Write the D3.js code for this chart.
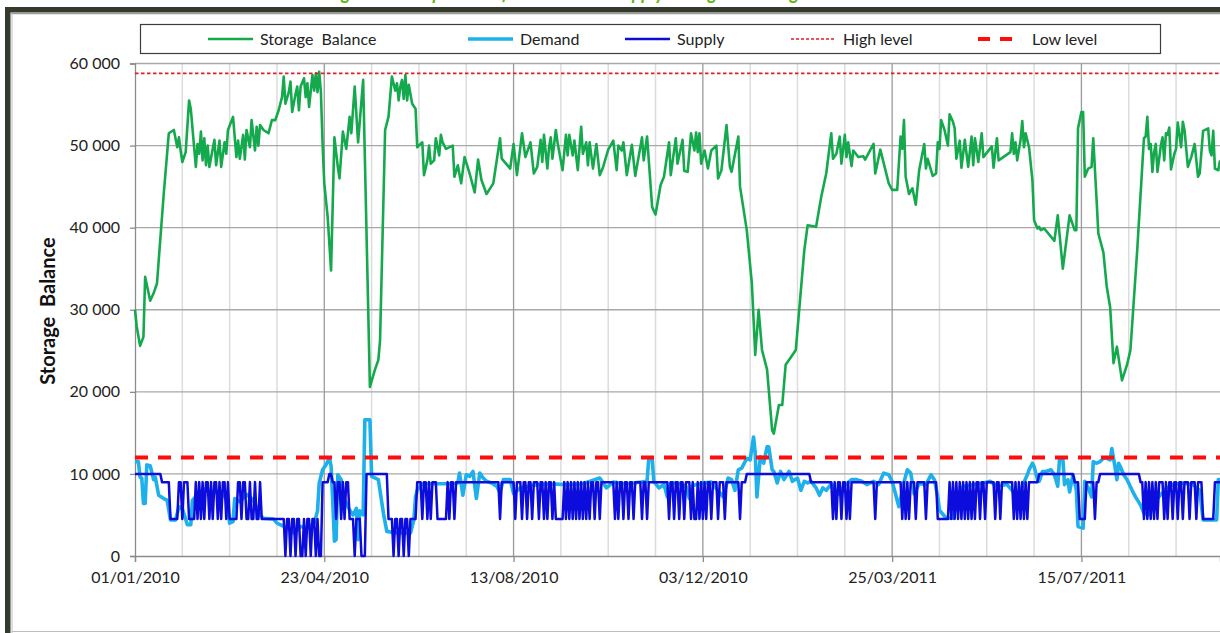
<!DOCTYPE html>
<html><head><meta charset="utf-8">
<script src="https://cdn.jsdelivr.net/npm/d3@7"></script>
<style>
body{margin:0;background:#fff;overflow:hidden}
svg{display:block}
text{font-family:Lato,"Liberation Sans",sans-serif}
</style>
</head><body>
<svg id="c" width="1220" height="633"></svg>
<script>
// ---------------- DATA ----------------
const startDate = "2010-01-01";
const lastDay = 642;            // days after startDate at right edge
const titleText = "Figure 7: Comparison of Demand and Supply during the Storage Simulation";

// [day offset from 01/01/2010, storage balance]
const storageSeries = [[0,30000],[1,28000],[3,25600],[5,26700],[6,34000],[9,31100],[11,32000],[13,33200],[17,44100],[20,51500],[23,51900],[25,49800],[26,51000],[27,49400],[28,48000],[30,49200],[32,55500],[33,54500],[36,47400],[37,50200],[38,49000],[39,51700],[40,48200],[41,50900],[42,47600],[43,50000],[44,47400],[47,50700],[48,47600],[50,50600],[51,47400],[53,50400],[54,49000],[55,51900],[58,53500],[60,48600],[61,50600],[62,48400],[64,51300],[65,48300],[66,51900],[68,49800],[69,53100],[71,49400],[72,52300],[73,50000],[74,52500],[76,51900],[79,51500],[81,53100],[83,53100],[85,54300],[87,55900],[88,58400],[89,55100],[91,56500],[92,57800],[93,54100],[95,56300],[96,57200],[97,54300],[98,57200],[100,58200],[101,55900],[102,57600],[103,54700],[105,58600],[106,56700],[107,58800],[108,56500],[109,59000],[110,56500],[111,50200],[112,45400],[114,41300],[116,34800],[118,51000],[120,47400],[121,46000],[123,51700],[125,49600],[127,53500],[128,51500],[130,57200],[132,50400],[135,58000],[139,20600],[142,22700],[144,23900],[145,26300],[148,51900],[150,53500],[152,58400],[154,56700],[155,57600],[156,55500],[157,57200],[158,58000],[159,55700],[160,58600],[161,55500],[162,57400],[164,55100],[166,54500],[167,49800],[169,50200],[170,50400],[171,46400],[173,48200],[174,50000],[175,47800],[177,48200],[178,50900],[180,48800],[181,51300],[182,50400],[184,49600],[188,50000],[189,46200],[191,47600],[193,45400],[195,48600],[198,46600],[201,44300],[203,48300],[205,45800],[208,44100],[212,45400],[216,50900],[217,48400],[222,47200],[224,50200],[226,46400],[229,51500],[231,48600],[234,50400],[236,46600],[238,47400],[240,50700],[241,48000],[242,51300],[244,47200],[245,49800],[246,51000],[247,48400],[249,51900],[250,50400],[253,47000],[255,51300],[256,48800],[257,51300],[259,48800],[260,50600],[262,47000],[264,52300],[265,49000],[267,50400],[268,47600],[269,50400],[271,47200],[273,50200],[275,46400],[277,47400],[280,49500],[283,50600],[285,47000],[286,50000],[288,49400],[289,50400],[291,46400],[294,50100],[296,46300],[300,51000],[301,48200],[303,51100],[306,42500],[308,41600],[311,45200],[313,46200],[316,50400],[317,46400],[320,50900],[321,47800],[324,50700],[325,46900],[327,46800],[329,51500],[331,49400],[332,51600],[333,49200],[334,51500],[335,47800],[337,49400],[339,47200],[341,49400],[344,50000],[345,46000],[347,47000],[350,52500],[352,47400],[353,46800],[357,51100],[358,45000],[362,39700],[365,33200],[367,24500],[369,30000],[371,25100],[374,22700],[377,15300],[378,14900],[381,18400],[383,18400],[385,23300],[389,24500],[391,25100],[396,37200],[398,40300],[403,40100],[406,43700],[409,46600],[412,51500],[413,48400],[415,49000],[417,51100],[418,47800],[420,51300],[421,48600],[422,50400],[424,47500],[425,49400],[428,48600],[431,48700],[432,48300],[437,50200],[438,46600],[441,49500],[446,45400],[448,44600],[451,44600],[453,51100],[454,49600],[455,53100],[456,46200],[458,44100],[460,44800],[462,42800],[464,47000],[467,50200],[468,47200],[469,48400],[472,46300],[474,46600],[475,50400],[476,49600],[477,53100],[479,51900],[481,50000],[482,53800],[484,52900],[485,52100],[486,48400],[488,50600],[489,47300],[491,50700],[493,47400],[495,51100],[496,47600],[497,50900],[499,48000],[501,51500],[502,48600],[507,49900],[508,47300],[510,50900],[511,48200],[518,49200],[519,51500],[520,49000],[521,50400],[522,48200],[524,50700],[525,53000],[526,49800],[527,51500],[529,49800],[531,45800],[532,40900],[534,39900],[535,40100],[536,39700],[538,39900],[544,38400],[546,41500],[549,35000],[553,41500],[556,39700],[557,39700],[558,52100],[560,54100],[561,54100],[562,46200],[564,47200],[566,47400],[567,50900],[569,43300],[570,39300],[573,37000],[575,32800],[577,30300],[579,23500],[581,25500],[584,21400],[587,23300],[589,25100],[593,37200],[597,50900],[598,51100],[599,53500],[600,49600],[601,50200],[602,46800],[603,49200],[604,50200],[605,46800],[607,50000],[608,51000],[609,48200],[610,51500],[611,51300],[612,52200],[613,47100],[615,49000],[616,49600],[617,52800],[619,49800],[620,52900],[621,51900],[623,47400],[625,48600],[627,50200],[629,46200],[630,46600],[632,51800],[635,52100],[636,49400],[637,48800],[638,51800],[639,47200],[641,47000],[642,48200]];

// [day offset, demand]
const demandSeries = [[0,11500],[2,11500],[3,9600],[4,9500],[5,6400],[6,6400],[7,11100],[9,11000],[11,9300],[12,9600],[14,7400],[17,7000],[19,6800],[21,4400],[24,4400],[26,6000],[28,5800],[31,3800],[33,3800],[34,6800],[36,7200],[38,7800],[42,8200],[46,7600],[50,8000],[54,7000],[56,4000],[58,4200],[59,7000],[62,6600],[66,7500],[70,6800],[74,5000],[76,4600],[82,4500],[84,4000],[88,3600],[91,3400],[94,2800],[98,3600],[102,3400],[106,4000],[108,5500],[109,8900],[111,10500],[113,11100],[115,11900],[116,11000],[117,6800],[118,1800],[119,2000],[120,9900],[122,9300],[124,6800],[127,5600],[129,5000],[131,5800],[132,2000],[133,5500],[135,5000],[136,16600],[139,16600],[140,9700],[144,9300],[147,5200],[149,3000],[155,2800],[163,2800],[165,4400],[166,7200],[167,8000],[170,8800],[188,8800],[191,8900],[192,10100],[194,7400],[196,9900],[198,9700],[200,10300],[202,7000],[204,10100],[206,9500],[208,9100],[211,8900],[214,8500],[216,7800],[218,9300],[222,9300],[224,7600],[228,8300],[235,8600],[245,8800],[255,8700],[265,8800],[275,9500],[279,8300],[283,9000],[290,8800],[295,8900],[303,9100],[304,11900],[306,11900],[307,9100],[310,8300],[313,8700],[315,7200],[317,8900],[321,8900],[326,8500],[328,7000],[330,8600],[336,8900],[341,9000],[348,7200],[351,9500],[353,9300],[355,8000],[357,10500],[359,10700],[361,11500],[362,11900],[364,11700],[366,14500],[367,12500],[368,7200],[370,12100],[372,11300],[374,13300],[375,13300],[377,10500],[378,10300],[380,8900],[382,10300],[384,9300],[387,10300],[389,9100],[392,9500],[394,8000],[396,9100],[398,8900],[400,9100],[403,8300],[405,7400],[407,8300],[409,8000],[412,8800],[416,7500],[420,8600],[424,9300],[427,9300],[430,9100],[433,8700],[437,9100],[440,8700],[443,10100],[446,9900],[448,9100],[452,6000],[455,9000],[457,10500],[459,10100],[461,7600],[464,8800],[468,8700],[471,9900],[473,9300],[475,7200],[476,5600],[480,4600],[484,4600],[487,7200],[490,8500],[502,8900],[506,9100],[510,8500],[516,8700],[519,8000],[522,7200],[525,8500],[528,9900],[529,10500],[531,11300],[532,10900],[534,9300],[535,9100],[537,10300],[539,10300],[542,10500],[544,9900],[546,8500],[547,11700],[549,11900],[550,8700],[552,9300],[553,7800],[555,9900],[557,8000],[558,3600],[561,3400],[562,9100],[564,8300],[566,7200],[567,11500],[569,11300],[571,11500],[573,11900],[575,11900],[577,11700],[578,13100],[580,10700],[581,9300],[582,11300],[583,10900],[585,9900],[587,9300],[590,8000],[592,7200],[595,6200],[597,5200],[600,5000],[605,7000],[610,8200],[614,8700],[620,8900],[626,8700],[630,8000],[632,4400],[640,4400],[641,9300],[642,9300]];

// Supply as runs: [first day of run, supply level]
const supplyRuns = [[0,10000],[16,9000],[21,4500],[26,9000],[28,4500],[29,9000],[32,4500],[36,9000],[37,4500],[38,9000],[39,4500],[40,9000],[41,4500],[42,9000],[44,4500],[45,9000],[46,4500],[47,9000],[49,4500],[50,9000],[51,4500],[52,9000],[54,4500],[55,9000],[56,4500],[61,9000],[63,4500],[64,9000],[66,4500],[68,9000],[69,4500],[71,9000],[72,4500],[74,9000],[75,4500],[89,0],[90,4500],[92,0],[93,4500],[95,0],[96,4500],[98,0],[100,4500],[101,0],[102,4500],[104,0],[105,4500],[107,0],[108,4500],[109,0],[111,9000],[115,10000],[117,9000],[119,4500],[120,9000],[122,4500],[123,9000],[124,4500],[125,9000],[127,4500],[130,0],[131,4500],[134,0],[137,10000],[150,4500],[153,0],[154,4500],[156,0],[157,4500],[159,0],[160,4500],[162,0],[163,4500],[167,9000],[170,4500],[171,9000],[173,4500],[174,9000],[175,4500],[176,9000],[179,4500],[185,9000],[186,4500],[187,9000],[189,4500],[190,9000],[216,4500],[217,9000],[225,4500],[226,9000],[229,4500],[230,9000],[232,4500],[233,9000],[235,4500],[236,9000],[239,4500],[240,9000],[242,4500],[243,9000],[244,4500],[245,9000],[247,4500],[248,9000],[249,4500],[254,9000],[255,4500],[256,9000],[257,4500],[258,9000],[259,4500],[260,9000],[261,4500],[262,9000],[263,4500],[264,9000],[265,4500],[266,9000],[267,4500],[268,9000],[269,4500],[270,9000],[272,4500],[273,9000],[275,4500],[276,9000],[284,4500],[285,9000],[286,4500],[287,9000],[289,4500],[290,9000],[292,4500],[293,9000],[295,4500],[296,9000],[300,4500],[301,9000],[303,4500],[304,9000],[316,4500],[317,9000],[319,4500],[320,9000],[322,4500],[323,9000],[325,4500],[326,9000],[329,4500],[330,9000],[331,4500],[333,9000],[334,4500],[335,9000],[336,4500],[337,9000],[338,4500],[339,9000],[341,4500],[342,9000],[345,4500],[346,9000],[349,4500],[350,9000],[358,4500],[359,9000],[362,10000],[400,9000],[413,4500],[414,9000],[415,4500],[416,9000],[418,4500],[419,9000],[421,4500],[422,9000],[423,4500],[424,9000],[438,4500],[439,9000],[454,4500],[455,9000],[456,4500],[457,9000],[458,4500],[459,9000],[462,4500],[463,9000],[468,4500],[469,9000],[475,4500],[482,9000],[483,4500],[484,9000],[485,4500],[486,9000],[487,4500],[488,9000],[489,4500],[490,9000],[491,4500],[492,9000],[493,4500],[494,9000],[495,4500],[496,9000],[497,4500],[498,9000],[500,4500],[501,9000],[503,4500],[504,9000],[509,4500],[510,9000],[512,4500],[513,9000],[520,4500],[521,9000],[522,4500],[523,9000],[524,4500],[525,9000],[526,4500],[527,9000],[528,4500],[529,9000],[535,10000],[556,9000],[559,4500],[563,9000],[568,4500],[569,9000],[571,10000],[595,9000],[597,4500],[598,9000],[599,4500],[600,9000],[601,4500],[602,9000],[603,4500],[604,9000],[605,4500],[606,9000],[609,4500],[610,9000],[611,4500],[612,9000],[614,4500],[615,9000],[617,4500],[618,9000],[620,4500],[621,9000],[624,4500],[625,9000],[628,4500],[629,9000],[632,4500],[639,9000]];

const highLevel = 58800;
const lowLevel = 12000;
const xMajorTickDays = [0, 112, 224, 336, 448, 560];
const xMinorStepDays = 28;
const yTicks = [0, 10000, 20000, 30000, 40000, 50000, 60000];
const yAxisTitle = "Storage  Balance";
const legendLabels = ["Storage  Balance", "Demand", "Supply", "High level", "Low level"];

// ---------------- CHART ----------------
const svg = d3.select("#c");
const t0 = new Date(startDate + "T00:00:00Z");
const toDate = d => d3.utcDay.offset(t0, d);

const L = 135, R = 1220, T = 63.5, B = 556;
const x = d3.scaleUtc().domain([t0, toDate(lastDay)]).range([L, R]);
const y = d3.scaleLinear().domain([0, 60000]).range([B, T]);

const colors = {storage:"#14a94c", demand:"#1db0ea", supply:"#0c0cdc", high:"#e41d25", low:"#ff0d0d"};

// frame (the reference is a crop: only the descenders of the title show above the frame)
svg.append("text").attr("x", 610).attr("y", -0.5).attr("text-anchor","middle")
  .attr("font-size", 18).attr("font-weight","bold").attr("font-style","italic")
  .attr("fill","#5cb80e").text(titleText);
svg.append("rect").attr("x",5).attr("y",7).attr("width",1215).attr("height",5.5).attr("fill","#343a2c");
svg.append("rect").attr("x",5).attr("y",7).attr("width",5.5).attr("height",626).attr("fill","#343a2c");
svg.append("line").attr("x1",10.5).attr("x2",1220).attr("y1",13.5).attr("y2",13.5).attr("stroke","#9a9a9a").attr("stroke-width",1.5);
svg.append("line").attr("x1",12).attr("x2",12).attr("y1",13).attr("y2",633).attr("stroke","#bdbdbd").attr("stroke-width",1);
svg.append("line").attr("x1",12).attr("x2",1220).attr("y1",631.5).attr("y2",631.5).attr("stroke","#bdbdbd").attr("stroke-width",1);

const g = svg.append("g");

// minor vertical gridlines
const minorDays = d3.range(xMinorStepDays, lastDay + 1, xMinorStepDays).filter(d => !xMajorTickDays.includes(d));
g.selectAll(".vmin").data(minorDays).join("line")
  .attr("x1", d => x(toDate(d))).attr("x2", d => x(toDate(d)))
  .attr("y1", T).attr("y2", B).attr("stroke", "#dcdcdc").attr("stroke-width", 1.5);
// horizontal gridlines
g.selectAll(".hg").data(yTicks.filter(v => v > 0)).join("line")
  .attr("x1", L).attr("x2", R).attr("y1", d => y(d)).attr("y2", d => y(d))
  .attr("stroke", "#a8a8a8").attr("stroke-width", 1.3);
// major vertical gridlines
g.selectAll(".vmaj").data(xMajorTickDays.filter(d => d > 0)).join("line")
  .attr("x1", d => x(toDate(d))).attr("x2", d => x(toDate(d)))
  .attr("y1", T).attr("y2", B).attr("stroke", "#9a9a9a").attr("stroke-width", 1.3);

// axes
const loc = d3.formatLocale({decimal: ".", thousands: " ", grouping: [3], currency: ["", ""]});
const yAxis = d3.axisLeft(y).tickValues(yTicks).tickFormat(loc.format(",")).tickSize(5).tickPadding(10);
const ya = svg.append("g").attr("transform", `translate(${L},0)`).call(yAxis);
const xAxis = d3.axisBottom(x).tickValues(xMajorTickDays.map(toDate)).tickFormat(d3.utcFormat("%d/%m/%Y")).tickSize(6).tickPadding(10);
const xa = svg.append("g").attr("transform", `translate(0,${B})`).call(xAxis);
[ya, xa].forEach(a => {
  a.select(".domain").attr("stroke", "#8c8c8c").attr("stroke-width", 1.3);
  a.selectAll(".tick line").attr("stroke", "#8c8c8c").attr("stroke-width", 1.3);
  a.selectAll("text").attr("font-family", "Lato,'Liberation Sans',sans-serif").attr("font-size", 16).attr("fill", "#222");
});

svg.append("text").attr("transform", "translate(55,311) rotate(-90)").attr("text-anchor", "middle")
  .attr("font-size", 20).attr("font-weight", "bold").attr("fill", "#111").style("white-space", "pre")
  .text(yAxisTitle);

// lines
const line = d3.line().x(d => x(toDate(d[0]))).y(d => y(d[1])).curve(d3.curveLinear);
const supplyPts = [];
supplyRuns.forEach((r, i) => {
  const end = i + 1 < supplyRuns.length ? supplyRuns[i + 1][0] - 1 : lastDay;
  supplyPts.push([r[0], r[1]]);
  if (end > r[0]) supplyPts.push([end, r[1]]);
});

const plot = svg.append("g");
plot.append("path").datum(storageSeries).attr("d", line).attr("fill", "none")
  .attr("stroke", colors.storage).attr("stroke-width", 2.6).attr("stroke-linejoin", "round");
plot.append("path").datum(demandSeries).attr("d", line).attr("fill", "none")
  .attr("stroke", colors.demand).attr("stroke-width", 3.6).attr("stroke-linejoin", "round");
plot.append("path").datum(supplyPts).attr("d", line).attr("fill", "none")
  .attr("stroke", colors.supply).attr("stroke-width", 2.5).attr("stroke-linejoin", "round");
plot.append("line").attr("x1", L).attr("x2", R).attr("y1", y(highLevel)).attr("y2", y(highLevel))
  .attr("stroke", colors.high).attr("stroke-width", 1.6).attr("stroke-dasharray", "3.5,2.5");
plot.append("line").attr("x1", L).attr("x2", R).attr("y1", y(lowLevel)).attr("y2", y(lowLevel))
  .attr("stroke", colors.low).attr("stroke-width", 3.8).attr("stroke-dasharray", "13,10");

// legend
const lg = svg.append("g");
lg.append("rect").attr("x", 140.5).attr("y", 24.5).attr("width", 1020).attr("height", 29)
  .attr("fill", "#fff").attr("stroke", "#3c3c3c").attr("stroke-width", 1.2);
const legX = [208, 468, 625, 791, 978];
const legStyle = [
  {c: colors.storage, w: 2.6, da: null},
  {c: colors.demand, w: 3.6, da: null},
  {c: colors.supply, w: 2.6, da: null},
  {c: colors.high, w: 1.6, da: "3,2"},
  {c: colors.low, w: 4, da: "12,10"}
];
legendLabels.forEach((lab, i) => {
  const s = legStyle[i];
  const ln = lg.append("line").attr("x1", legX[i]).attr("x2", legX[i] + (i === 4 ? 42 : 45))
    .attr("y1", 39).attr("y2", 39).attr("stroke", s.c).attr("stroke-width", s.w);
  if (s.da) ln.attr("stroke-dasharray", s.da);
  lg.append("text").attr("x", legX[i] + (i === 4 ? 54 : 52)).attr("y", 39).attr("dy", "0.36em")
    .attr("font-size", 16).attr("fill", "#222").style("white-space", "pre").text(lab);
});
</script>
</body></html>
